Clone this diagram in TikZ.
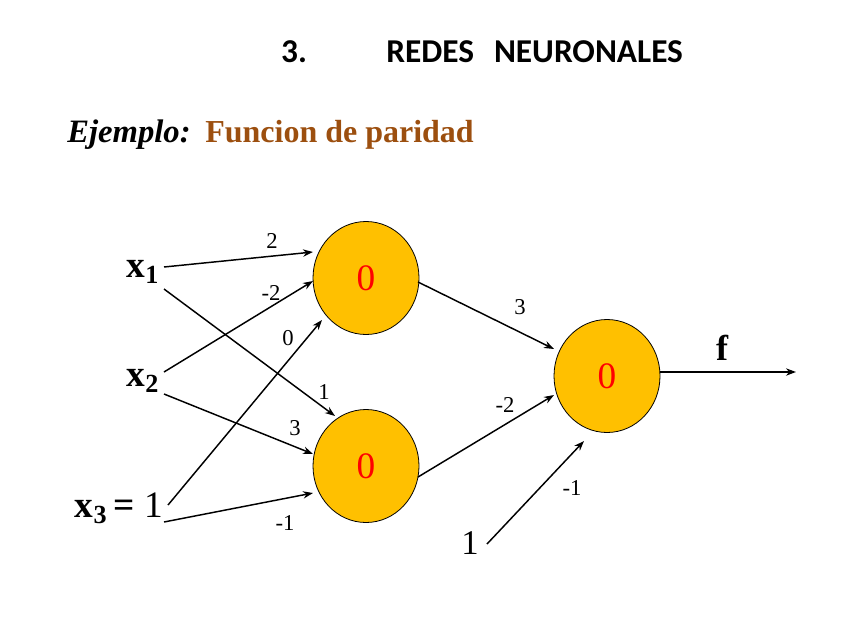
\documentclass[tikz,border=0pt]{standalone}
\usepackage{fontspec}
\setmainfont{Liberation Serif}
\newfontfamily\carlitofont{Carlito}
\usetikzlibrary{arrows.meta,shapes.geometric}
\definecolor{neuronfill}{RGB}{255,192,0}
\definecolor{brownt}{RGB}{156,79,15}
\tikzset{
  neuron/.style={ellipse,draw=black,line width=0.6pt,fill=neuronfill,minimum width=106pt*0.75,minimum height=113pt*0.75,inner sep=0pt,
    text=red,font=\fontsize{28}{30}\selectfont},
  inlab/.style={font=\fontsize{28}{30}\selectfont\bfseries,inner sep=0pt},
  wlab/.style={font=\fontsize{17}{19}\selectfont,inner sep=0pt},
  conn/.style={line width=1.1pt,-{Stealth[length=7.5pt,width=5.5pt]}},
  titlefont/.style={font=\carlitofont\fontsize{25}{28}\selectfont\bfseries,inner sep=0pt}
}
\begin{document}
\begin{tikzpicture}[x=0.75pt,y=-0.75pt]
\useasboundingbox (0,0) rectangle (866,621);
% title
\node[titlefont] (num) at (294,52) {3.};
\node[titlefont,anchor=west] (title) at (386,52) {REDES\hspace{0.6em}NEURONALES};
\node[font=\fontsize{24.5}{28}\selectfont\bfseries\itshape,inner sep=0pt,anchor=west] (ej) at (67,135) {Ejemplo:};
\node[font=\fontsize{24}{28}\selectfont\bfseries,text=brownt,inner sep=0pt,anchor=west] (fp) at (205,135) {Funcion de paridad};
% neurons
\node[neuron] (n1) at (366,278) {0};
\node[neuron] (n2) at (366,466) {0};
\node[neuron] (n3) at (607,376) {0};
% inputs
\node[inlab] (x1) at (143,272) {x$_{\mathbf{1}}$};
\node[inlab] (x2) at (143,381) {x$_{\mathbf{2}}$};
\node[inlab,anchor=east] (x3) at (163,508) {x$_{\mathbf{3}}$\,= \textmd{1}};
\node[font=\fontsize{26}{28}\selectfont,inner sep=0pt] (one) at (470,543) {1};
% coordinates for connector ends
\coordinate (x1a) at (164,267);
\coordinate (x1b) at (164,289);
\coordinate (x2a) at (164,372);
\coordinate (x2b) at (164,394);
\coordinate (x3a) at (168,505);
\coordinate (x3b) at (164,522);
\coordinate (t1) at (313,252);
\coordinate (t2) at (313,281);
\coordinate (t3) at (322,320);
\coordinate (b1) at (335,416);
\coordinate (b2) at (313,454);
\coordinate (b3) at (313,493);
\coordinate (n1o) at (418,282);
\coordinate (n2o) at (418,477);
\coordinate (r1) at (554,349);
\coordinate (r2) at (554,395);
\coordinate (onea) at (487,544);
\coordinate (r3) at (584,441);
\coordinate (n3o) at (660,372);
\coordinate (outend) at (796,372);
% connectors
\draw[conn] (x1a) -- (t1);
\draw[conn] (x1b) -- (b1);
\draw[conn] (x2a) -- (t2);
\draw[conn] (x2b) -- (b2);
\draw[conn] (x3a) -- (t3);
\draw[conn] (x3b) -- (b3);
\draw[conn] (n1o) -- (r1);
\draw[conn] (n2o) -- (r2);
\draw[conn] (onea) -- (r3);
\draw[conn] (n3o) -- (outend);
% weights
\node[wlab] (w1) at (272,241) {2};
\node[wlab] (w2) at (271,293) {-2};
\node[wlab] (w3) at (288,338) {0};
\node[wlab] (w4) at (324,392) {1};
\node[wlab] (w5) at (295,428) {3};
\node[wlab] (w6) at (285,523) {-1};
\node[wlab] (w7) at (520,307) {3};
\node[wlab] (w8) at (505,405) {-2};
\node[wlab] (w9) at (572,488) {-1};
\node[font=\fontsize{27}{30}\selectfont\bfseries,inner sep=0pt] (f) at (722,348) {f};
\end{tikzpicture}
\end{document}
